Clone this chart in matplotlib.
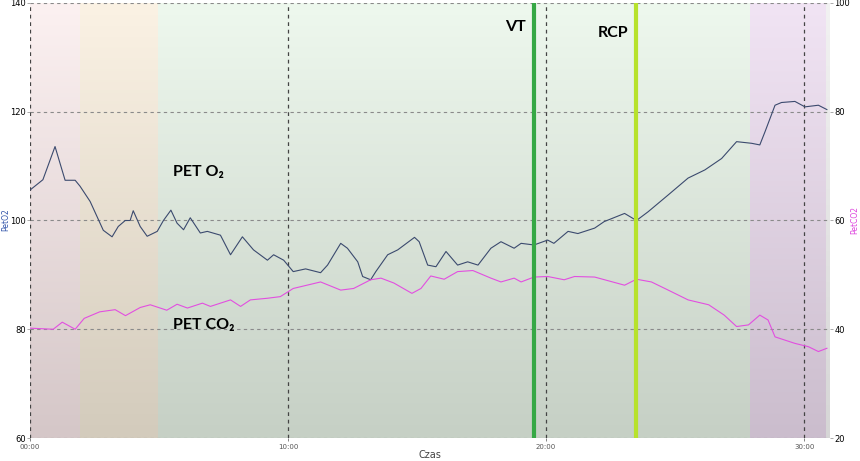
import numpy as np
import matplotlib.pyplot as plt
from matplotlib.colors import to_rgb

# time in minutes
t_o2 = [0.0, 0.5, 0.97, 1.36, 1.75, 1.94, 2.33, 2.84, 3.18, 3.42, 3.69, 3.88, 4.0, 4.27, 4.54,
        4.93, 5.17, 5.46, 5.7, 5.95, 6.21, 6.6, 6.87, 7.38, 7.77, 8.23, 8.66, 9.2, 9.44, 9.83,
        10.2, 10.68, 11.26, 11.53, 12.04, 12.3, 12.7, 12.89, 13.2, 13.4, 13.86, 14.25, 14.9,
        15.08, 15.41, 15.73, 16.12, 16.57, 16.96, 17.36, 17.86, 18.25, 18.76, 19.03, 19.53,
        20.06, 20.3, 20.85, 21.23, 21.88, 22.25, 23.04, 23.5, 23.95, 24.73, 25.5, 26.15, 26.8,
        27.38, 27.96, 28.28, 28.48, 28.87, 29.12, 29.64, 30.03, 30.55, 30.88]
o2 = [105.6, 107.5, 113.6, 107.4, 107.4, 106.3, 103.5, 98.2, 97.0, 98.9, 100.0, 100.0, 101.8,
      98.9, 97.1, 98.0, 100.0, 101.9, 99.5, 98.3, 100.5, 97.7, 98.0, 97.3, 93.7, 97.0, 94.6,
      92.7, 93.7, 92.7, 90.6, 91.1, 90.4, 91.8, 95.8, 94.9, 92.4, 89.7, 89.1, 90.6, 93.7,
      94.6, 96.9, 96.1, 91.8, 91.5, 94.3, 91.8, 92.4, 91.8, 94.9, 96.1, 94.9, 95.8, 95.5,
      96.4, 95.8, 98.0, 97.6, 98.6, 99.8, 101.3, 100.0, 101.6, 104.7, 107.8, 109.3, 111.4,
      114.5, 114.2, 113.9, 116.3, 121.2, 121.7, 121.9, 120.9, 121.2, 120.4]

t_co2 = [0.0, 0.9, 1.25, 1.75, 2.1, 2.7, 3.3, 3.7, 4.27, 4.66, 5.3, 5.7, 6.1, 6.68, 6.99,
         7.77, 8.16, 8.54, 9.2, 9.7, 10.2, 11.26, 12.04, 12.54, 13.2, 13.6, 14.1, 14.8, 15.15,
         15.53, 16.05, 16.57, 17.16, 17.86, 18.25, 18.76, 19.03, 19.53, 20.06, 20.7, 21.1,
         21.88, 23.04, 23.5, 24.08, 24.73, 25.5, 26.3, 26.9, 27.38, 27.84, 28.28, 28.6, 28.87,
         29.64, 30.16, 30.55, 30.88]
co2 = [40.2, 40.0, 41.3, 40.0, 42.0, 43.2, 43.6, 42.5, 44.0, 44.5, 43.5, 44.6, 43.9, 44.8,
       44.2, 45.4, 44.2, 45.4, 45.7, 46.0, 47.5, 48.7, 47.2, 47.5, 49.1, 49.4, 48.5, 46.6,
       47.5, 49.8, 49.2, 50.6, 50.8, 49.4, 48.7, 49.4, 48.7, 49.6, 49.7, 49.1, 49.7, 49.6,
       48.1, 49.2, 48.7, 47.2, 45.4, 44.5, 42.6, 40.5, 40.8, 42.6, 41.7, 38.6, 37.4, 36.8,
       35.9, 36.5]

# background zones: (start, end, top colour, bottom colour)
zones = [(0.0, 1.95, '#fcf1f1', '#d5c7c8'),
         (1.95, 4.97, '#fbf2e4', '#d3cbbc'),
         (4.97, 27.9, '#eef8ee', '#c6d0c5'),
         (27.9, 30.85, '#f1e4f4', '#cbbdcd'),
         (30.85, 31.0, '#f2f2f2', '#d6d6d6')]
vt, rcp = 19.53, 23.5

fig = plt.figure(figsize=(8.6, 4.61), dpi=100)
ax = fig.add_axes([30 / 860, 23 / 461, 800 / 860, 435 / 461])

for x0, x1, ctop, cbot in zones:
    grad = np.linspace(to_rgb(ctop), to_rgb(cbot), 100)[:, None, :]
    ax.imshow(grad, extent=[x0, x1, 60, 140], aspect='auto', zorder=0, interpolation='bilinear')

ax.set_xlim(0, 31)
ax.set_ylim(60, 140)
ax.set_yticks([60, 80, 100, 120, 140])
ax.set_xticks([0, 10, 20, 30])
ax.set_xticklabels(['00:00', '10:00', '20:00', '30:00'])
for y in [60, 80, 100, 120, 140]:
    ax.axhline(y, color='#8a8a8a', lw=0.8, ls=(0, (3, 3)), zorder=1)
for x in [0, 10, 20, 30]:
    ax.axvline(x, color='#444444', lw=0.9, ls=(0, (3, 3)), zorder=1)
for s in ax.spines.values():
    s.set_visible(False)
ax.tick_params(labelsize=6, length=2, width=0.5, color='#888888', pad=1)
ax.tick_params(axis='x', labelsize=5, colors='#555555', pad=2)

ax.plot(t_o2, o2, color='#3b4a6e', lw=0.8, zorder=3)
ax.set_xlabel('Czas', color='#444444', fontsize=7, labelpad=0)

ax2 = ax.twinx()
ax2.set_ylim(20, 100)
ax2.set_yticks([20, 40, 60, 80, 100])
for s in ax2.spines.values():
    s.set_visible(False)
ax2.tick_params(labelsize=6, length=2, width=0.5, color='#888888', pad=1)
ax2.plot(t_co2, co2, color='#e24fe0', lw=0.8, zorder=3)

fig.text(1 / 860, 1 - 220 / 461, 'PetO2', rotation=90, ha='left', va='center',
         color='#3355aa', fontsize=5.5)
fig.text(859 / 860, 1 - 220 / 461, 'PetCO2', rotation=90, ha='right', va='center',
         color='#dd44dd', fontsize=5.5)

ax2.axvline(vt, color='#36a845', lw=3, zorder=4)
ax2.axvline(rcp, color='#b7e22c', lw=3, zorder=4)

fam = ['Lato', 'DejaVu Sans']
ax2.text(vt - 0.3, 95.5, 'VT', ha='right', va='center', fontsize=11.5, fontweight='bold', family=fam)
ax2.text(rcp - 0.3, 94.5, 'RCP', ha='right', va='center', fontsize=11.5, fontweight='bold', family=fam)
ax.text(5.55, 109, 'PET O₂', ha='left', va='center', fontsize=11.5, fontweight='bold', family=fam)
ax.text(5.55, 80.8, 'PET CO₂', ha='left', va='center', fontsize=11.5, fontweight='bold', family=fam)

fig.savefig('out.png', dpi=100)
